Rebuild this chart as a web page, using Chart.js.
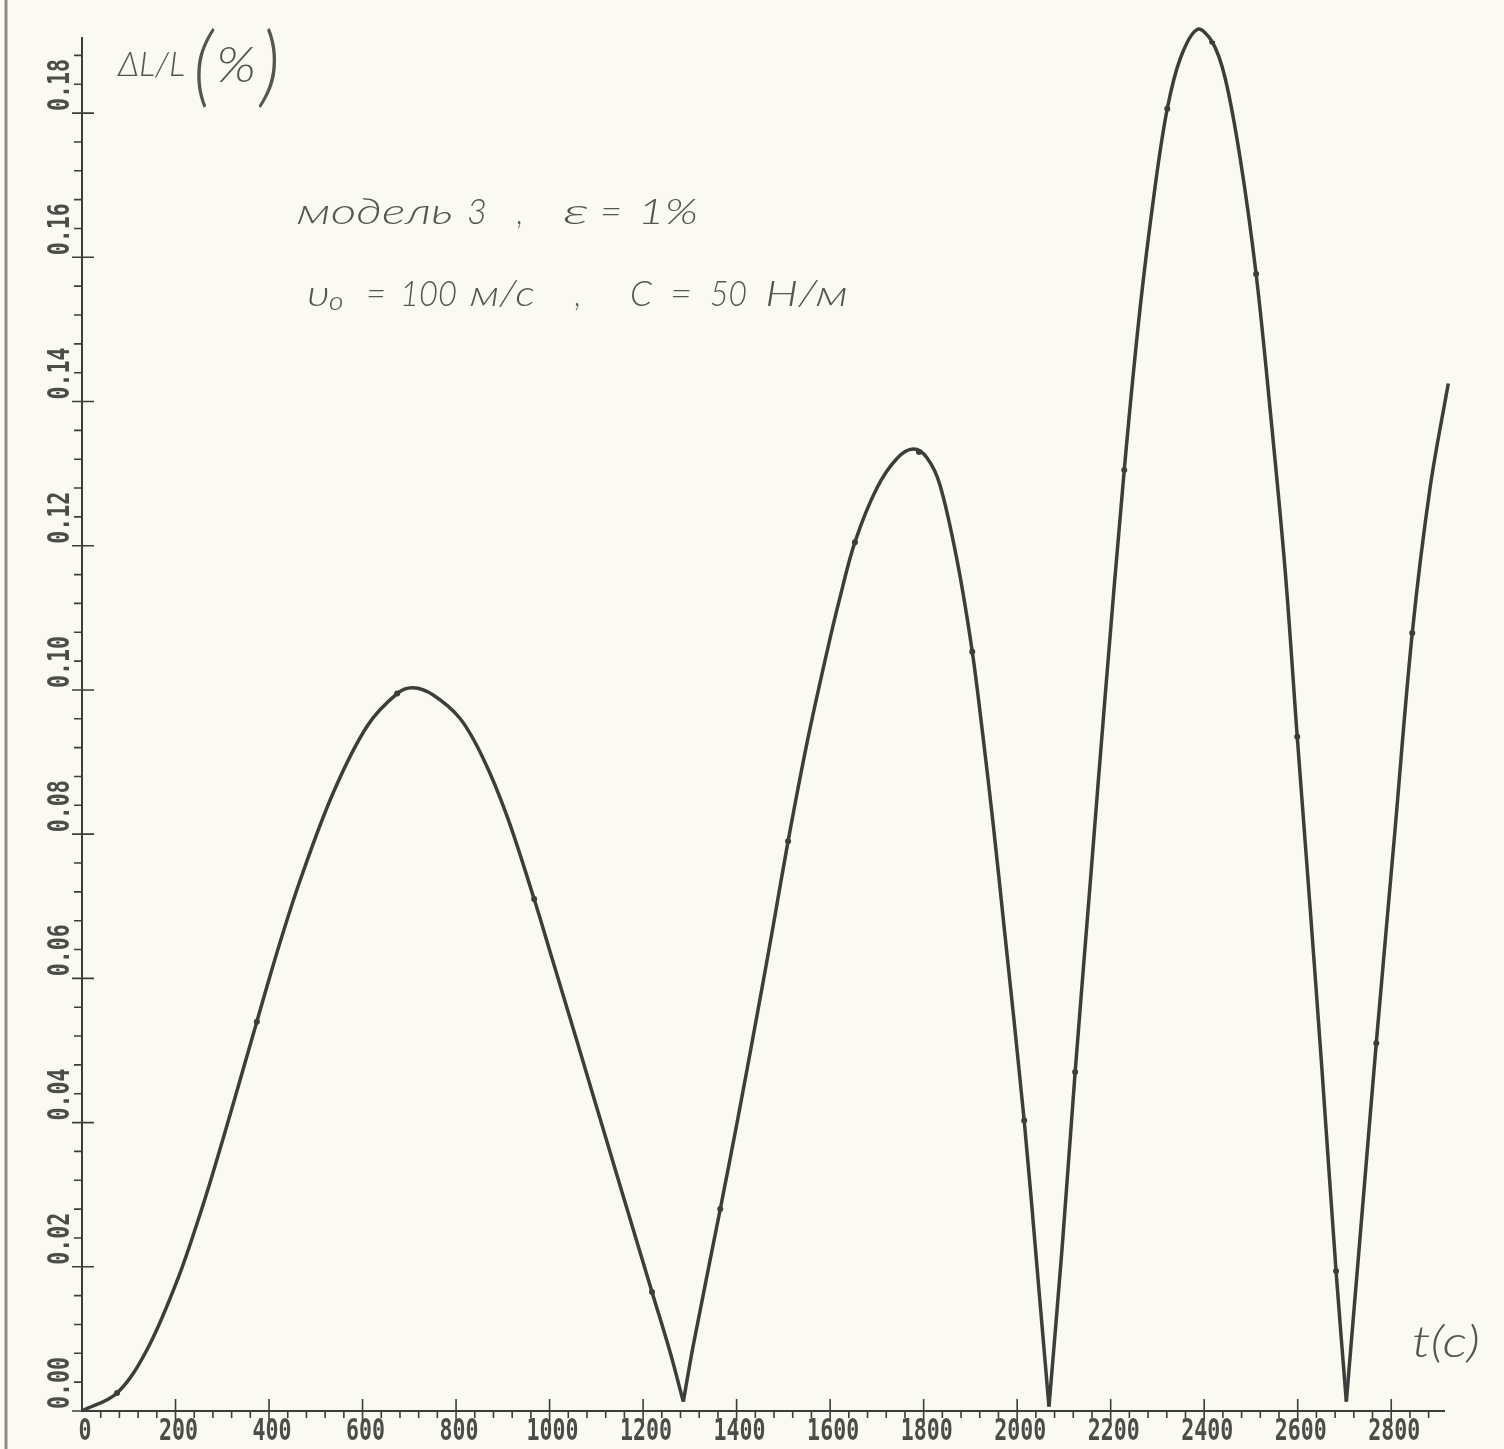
<!DOCTYPE html>
<html>
<head>
<meta charset="utf-8">
<style>
  html, body { margin: 0; padding: 0; background: #fbfaf2; }
  #wrap { width: 1504px; height: 1449px; }
</style>
</head>
<body>
<div id="wrap">
  <canvas id="myChart" width="1504" height="1449"></canvas>
</div>
<script src="https://cdn.jsdelivr.net/npm/chart.js"></script>
<script>
// t (c) and dL/L (%), one array pair per arch (cusp points shared)
const arch1T = [0, 75, 139, 203, 246, 280, 323, 374, 417, 466, 537, 610, 674, 708, 751, 809, 858, 909, 967, 1007, 1059, 1093, 1151, 1221, 1258, 1286];
const arch1V = [0, 0.0025, 0.0085, 0.0180, 0.0260, 0.0330, 0.0425, 0.0540, 0.0636, 0.0735, 0.0857, 0.0950, 0.0995, 0.1003, 0.0993, 0.0960, 0.0905, 0.0825, 0.0710, 0.0624, 0.0512, 0.0438, 0.0312, 0.0161, 0.0081, 0.0013];

const arch2T = [1286, 1307, 1365, 1401, 1444, 1478, 1510, 1551, 1594, 1621, 1653, 1700, 1743, 1778, 1807, 1835, 1872, 1904, 1927, 1949, 1972, 2015, 2045, 2068];
const arch2V = [0.0013, 0.0090, 0.0280, 0.0400, 0.0550, 0.0672, 0.0790, 0.0928, 0.1055, 0.1128, 0.1205, 0.1280, 0.1321, 0.1334, 0.1322, 0.1284, 0.1178, 0.1053, 0.0935, 0.0812, 0.0672, 0.0403, 0.0180, 0.0006];

const arch3T = [2068, 2096, 2124, 2156, 2188, 2229, 2263, 2295, 2321, 2349, 2385, 2417, 2445, 2477, 2511, 2541, 2573, 2599, 2627, 2652, 2682, 2704];
const arch3V = [0.0006, 0.0225, 0.0470, 0.0730, 0.0990, 0.1305, 0.1530, 0.1698, 0.1806, 0.1876, 0.1916, 0.1899, 0.1848, 0.1737, 0.1577, 0.1389, 0.1167, 0.0935, 0.0694, 0.0472, 0.0194, 0.0013];

const arch4T = [2704, 2738, 2768, 2808, 2845, 2883, 2922];
const arch4V = [0.0013, 0.0277, 0.0510, 0.0805, 0.1079, 0.1280, 0.1425];

// little dots the plotter left on the curve
const markT = [75, 374, 674, 967, 1219, 1365, 1510, 1653, 1790, 1904, 2015, 2124, 2229, 2321, 2417, 2511, 2599, 2682, 2768, 2845, 2922];
const markV = [0.0025, 0.0540, 0.0995, 0.0710, 0.0165, 0.0280, 0.0790, 0.1205, 0.1330, 0.1053, 0.0403, 0.0470, 0.1305, 0.1806, 0.1899, 0.1577, 0.0935, 0.0194, 0.0510, 0.1079, 0.1425];

const xTicks = [0, 200, 400, 600, 800, 1000, 1200, 1400, 1600, 1800, 2000, 2200, 2400, 2600, 2800];
const yTicks = [0, 0.02, 0.04, 0.06, 0.08, 0.10, 0.12, 0.14, 0.16, 0.18];

const ink = '#3b3e3a';
const textInk = '#4c4d49';

function pts(ts, vs) {
  return ts.map((t, i) => ({ x: t, y: vs[i] }));
}

const curve = {
  showLine: true,
  pointRadius: 0,
  borderColor: ink,
  borderWidth: 3.5,
  tension: 0.35,
  clip: false
};

// text drawn squeezed/stretched to a given width
function fitText(ctx, text, x, y, w) {
  const m = ctx.measureText(text).width;
  ctx.save();
  ctx.translate(x, y);
  ctx.scale(w / m, 1);
  ctx.fillText(text, 0, 0);
  ctx.restore();
}

const axesPlugin = {
  id: 'plotterAxes',
  beforeDatasetsDraw(chart) {
    const ctx = chart.ctx;
    const xs = chart.scales.x, ys = chart.scales.y;
    const x0 = xs.getPixelForValue(0), y0 = ys.getPixelForValue(0);
    ctx.save();
    // scan edge on the left
    ctx.strokeStyle = '#8d8d86';
    ctx.lineWidth = 3;
    ctx.beginPath(); ctx.moveTo(6, 0); ctx.lineTo(6, 1449); ctx.stroke();

    ctx.strokeStyle = ink;
    ctx.lineWidth = 2;
    ctx.beginPath();
    ctx.moveTo(x0, ys.getPixelForValue(0.19) - 4);
    ctx.lineTo(x0, y0 + 1);
    ctx.moveTo(x0 - 1, y0);
    ctx.lineTo(xs.right, y0);
    ctx.stroke();

    ctx.lineWidth = 1.6;
    ctx.beginPath();
    for (let i = 0; i <= 47; i++) {
      const py = ys.getPixelForValue(i * 0.004);
      if (i % 5 === 0) { ctx.moveTo(x0 - 10, py); ctx.lineTo(x0 + 12, py); }
      else { ctx.moveTo(x0 - 8, py); ctx.lineTo(x0, py); }
    }
    for (let i = 1; i <= 72; i++) {
      const px = xs.getPixelForValue(i * 40);
      if (i % 5 === 0) { ctx.moveTo(px, y0 - 12); ctx.lineTo(px, y0 + 10); }
      else { ctx.moveTo(px, y0); ctx.lineTo(px, y0 + 7); }
    }
    ctx.stroke();
    ctx.restore();
  },
  afterDraw(chart) {
    const ctx = chart.ctx;
    const xs = chart.scales.x, ys = chart.scales.y;
    ctx.save();
    ctx.fillStyle = textInk;
    ctx.font = 'bold 30px "DejaVu Sans Mono", monospace';

    yTicks.forEach(v => {
      const py = ys.getPixelForValue(v);
      ctx.save();
      ctx.translate(69, py - 2);
      ctx.rotate(-Math.PI / 2);
      ctx.scale(0.72, 1);
      ctx.textAlign = 'left';
      ctx.fillText(v.toFixed(2), 0, 0);
      ctx.restore();
    });

    xTicks.forEach(t => {
      const px = xs.getPixelForValue(t);
      ctx.save();
      ctx.translate(px + 3, 1440);
      ctx.scale(0.72, 1);
      ctx.textAlign = 'center';
      ctx.fillText(String(t), 0, 0);
      ctx.restore();
    });

    // hand lettering
    const hand = (size) => 'italic 300 ' + size + 'px Lato, "Open Sans", "DejaVu Sans", sans-serif';
    ctx.fillStyle = '#55564f';
    ctx.textAlign = 'left';
    ctx.font = hand(34);
    fitText(ctx, 'ΔL/L', 118, 76, 67);
    ctx.font = hand(88);
    fitText(ctx, '(', 193, 96, 20);
    fitText(ctx, ')', 260, 96, 20);
    ctx.font = hand(50);
    fitText(ctx, '%', 216, 82, 40);

    ctx.font = hand(36);
    [['модель', 297, 156], ['3', 467, 20], [',', 517, 6], ['ε', 563, 26], ['=', 600, 22], ['1%', 638, 60]]
      .forEach(p => fitText(ctx, p[0], p[1], 224, p[2]));
    [['υ₀', 307, 38], ['=', 366, 20], ['100', 400, 57], ['м/с', 470, 65], [',', 575, 6], ['С', 630, 22], ['=', 670, 22], ['50', 710, 37], ['Н/м', 765, 83]]
      .forEach(p => fitText(ctx, p[0], p[1], 306, p[2]));

    ctx.font = hand(44);
    fitText(ctx, 't(c)', 1412, 1357, 68);
    ctx.restore();
  }
};

const config = {
  type: 'scatter',
  data: {
    datasets: [
      { data: pts(arch1T, arch1V), ...curve },
      { data: pts(arch2T, arch2V), ...curve },
      { data: pts(arch3T, arch3V), ...curve },
      { data: pts(arch4T, arch4V), ...curve },
      {
        data: pts(markT, markV),
        showLine: false,
        pointRadius: 3,
        pointBorderWidth: 0,
        pointBackgroundColor: ink
      }
    ]
  },
  options: {
    responsive: false,
    animation: false,
    devicePixelRatio: 1,
    layout: { padding: { top: 41, right: 59, left: 0, bottom: 0 } },
    plugins: { legend: { display: false }, tooltip: { enabled: false } },
    scales: {
      x: {
        type: 'linear', min: 0, max: 2915,
        grid: { display: false }, border: { display: false },
        ticks: { display: false },
        afterFit: (scale) => { scale.height = 38; }
      },
      y: {
        type: 'linear', min: 0, max: 0.19,
        grid: { display: false }, border: { display: false },
        ticks: { display: false },
        afterFit: (scale) => { scale.width = 82; }
      }
    }
  },
  plugins: [axesPlugin]
};

const myChart = new Chart(document.getElementById('myChart'), config);
</script>
</body>
</html>
